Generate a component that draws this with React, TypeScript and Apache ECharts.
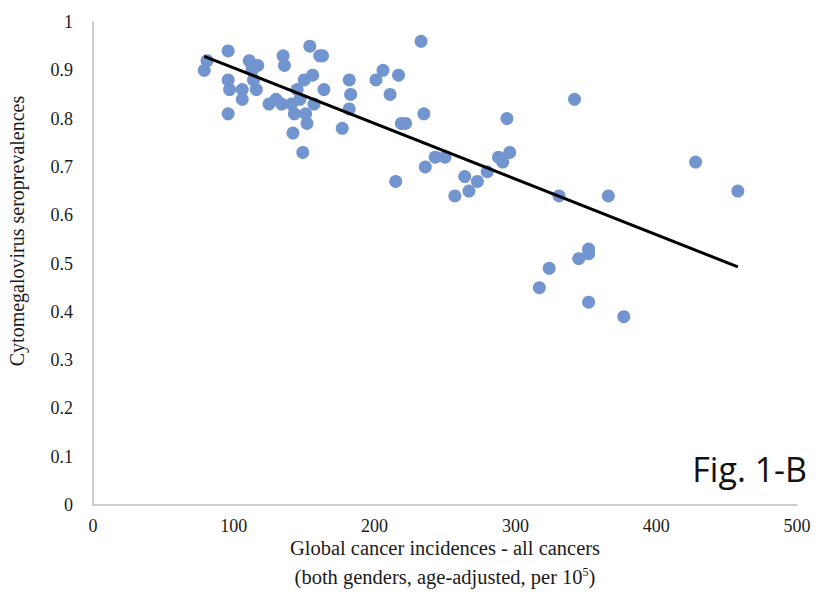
import React, { useEffect, useRef } from "react";
import * as echarts from "echarts";

const incidences = [
  79, 81, 96, 96, 97, 96, 106, 106, 111, 113, 117, 114, 116, 113, 125, 130, 134, 135, 136, 141,
  142, 143, 145, 149, 150, 147, 151, 152, 154, 156, 157, 161, 163, 164, 177, 182, 183, 182, 201, 206,
  211, 217, 215, 219, 222, 233, 235, 236, 243, 250, 257, 264, 267, 273, 280, 288, 291, 294, 296, 317,
  324, 331, 342, 345, 352, 352, 352, 366, 377, 428, 458,
];
const seroprevalences = [
  0.9, 0.92, 0.94, 0.88, 0.86, 0.81, 0.86, 0.84, 0.92, 0.91, 0.91, 0.88, 0.86, 0.9, 0.83, 0.84, 0.83, 0.93, 0.91, 0.83,
  0.77, 0.81, 0.86, 0.73, 0.88, 0.84, 0.81, 0.79, 0.95, 0.89, 0.83, 0.93, 0.93, 0.86, 0.78, 0.88, 0.85, 0.82, 0.88, 0.9,
  0.85, 0.89, 0.67, 0.79, 0.79, 0.96, 0.81, 0.7, 0.72, 0.72, 0.64, 0.68, 0.65, 0.67, 0.69, 0.72, 0.71, 0.8, 0.73, 0.45,
  0.49, 0.64, 0.84, 0.51, 0.53, 0.52, 0.42, 0.64, 0.39, 0.71, 0.65,
];
const trendX = [79, 458];
const trendY = [0.929, 0.493];

const xTitle1 = "Global cancer incidences - all cancers";
const yTitle = "Cytomegalovirus seroprevalences";
const figLabel = "Fig. 1-B";

export default function App() {
  const ref = useRef<HTMLDivElement>(null);
  useEffect(() => {
    if (!ref.current) return;
    const chart = echarts.init(ref.current, null, { renderer: "svg" });
    const serif = "'Liberation Serif', 'Times New Roman', serif";
    chart.setOption({
      animation: false,
      backgroundColor: "#ffffff",
      grid: { left: 93, right: 28, top: 22, bottom: 93 },
      xAxis: {
        type: "value",
        min: 0,
        max: 500,
        interval: 100,
        axisLine: { show: true, lineStyle: { color: "#bfbfbf", width: 1.5 } },
        axisTick: { show: false },
        splitLine: { show: false },
        axisLabel: { color: "#1a1a1a", fontFamily: serif, fontSize: 18, margin: 12 },
      },
      yAxis: {
        type: "value",
        min: 0,
        max: 1,
        interval: 0.1,
        axisLine: { show: true, lineStyle: { color: "#bfbfbf", width: 1.5 } },
        axisTick: { show: false },
        splitLine: { show: false },
        axisLabel: { color: "#1a1a1a", fontFamily: serif, fontSize: 18, margin: 20 },
      },
      graphic: [
        {
          type: "text",
          x: 17,
          y: 231,
          rotation: Math.PI / 2,
          style: {
            text: yTitle,
            fontFamily: serif,
            fontSize: 20,
            fill: "#1a1a1a",
            align: "center",
            verticalAlign: "middle",
          },
        },
        {
          type: "text",
          x: 445,
          y: 548,
          style: {
            text: xTitle1,
            fontFamily: serif,
            fontSize: 20.5,
            fill: "#1a1a1a",
            align: "center",
            verticalAlign: "middle",
          },
        },
        {
          type: "text",
          x: 445,
          y: 577,
          style: {
            text: "{n|(both genders, age-adjusted, per 10}{sup|5}{n|)}",
            fontFamily: serif,
            fontSize: 20.5,
            fill: "#1a1a1a",
            align: "center",
            verticalAlign: "middle",
            rich: {
              n: { fontFamily: serif, fontSize: 20.5, fill: "#1a1a1a" },
              sup: { fontFamily: serif, fontSize: 12, fill: "#1a1a1a", verticalAlign: "top", padding: [0, 0, 10, 0] },
            },
          },
        },
        {
          type: "text",
          x: 807,
          y: 486,
          style: {
            text: figLabel,
            fontFamily: "'Open Sans', 'Liberation Sans', sans-serif",
            fontSize: 34,
            fill: "#111",
            align: "right",
            verticalAlign: "bottom",
          },
        },
      ],
      series: [
        {
          type: "scatter",
          data: incidences.map((x, i) => [x, seroprevalences[i]]),
          symbol: "circle",
          symbolSize: 13,
          itemStyle: { color: "#7295d0", opacity: 1 },
          z: 2,
        },
        {
          type: "line",
          data: trendX.map((x, i) => [x, trendY[i]]),
          symbol: "none",
          lineStyle: { color: "#000", width: 3 },
          z: 3,
        },
      ],
    });
    return () => chart.dispose();
  }, []);
  return <div ref={ref} style={{ width: 825, height: 598, position: "absolute", left: 0, top: 0 }} />;
}
